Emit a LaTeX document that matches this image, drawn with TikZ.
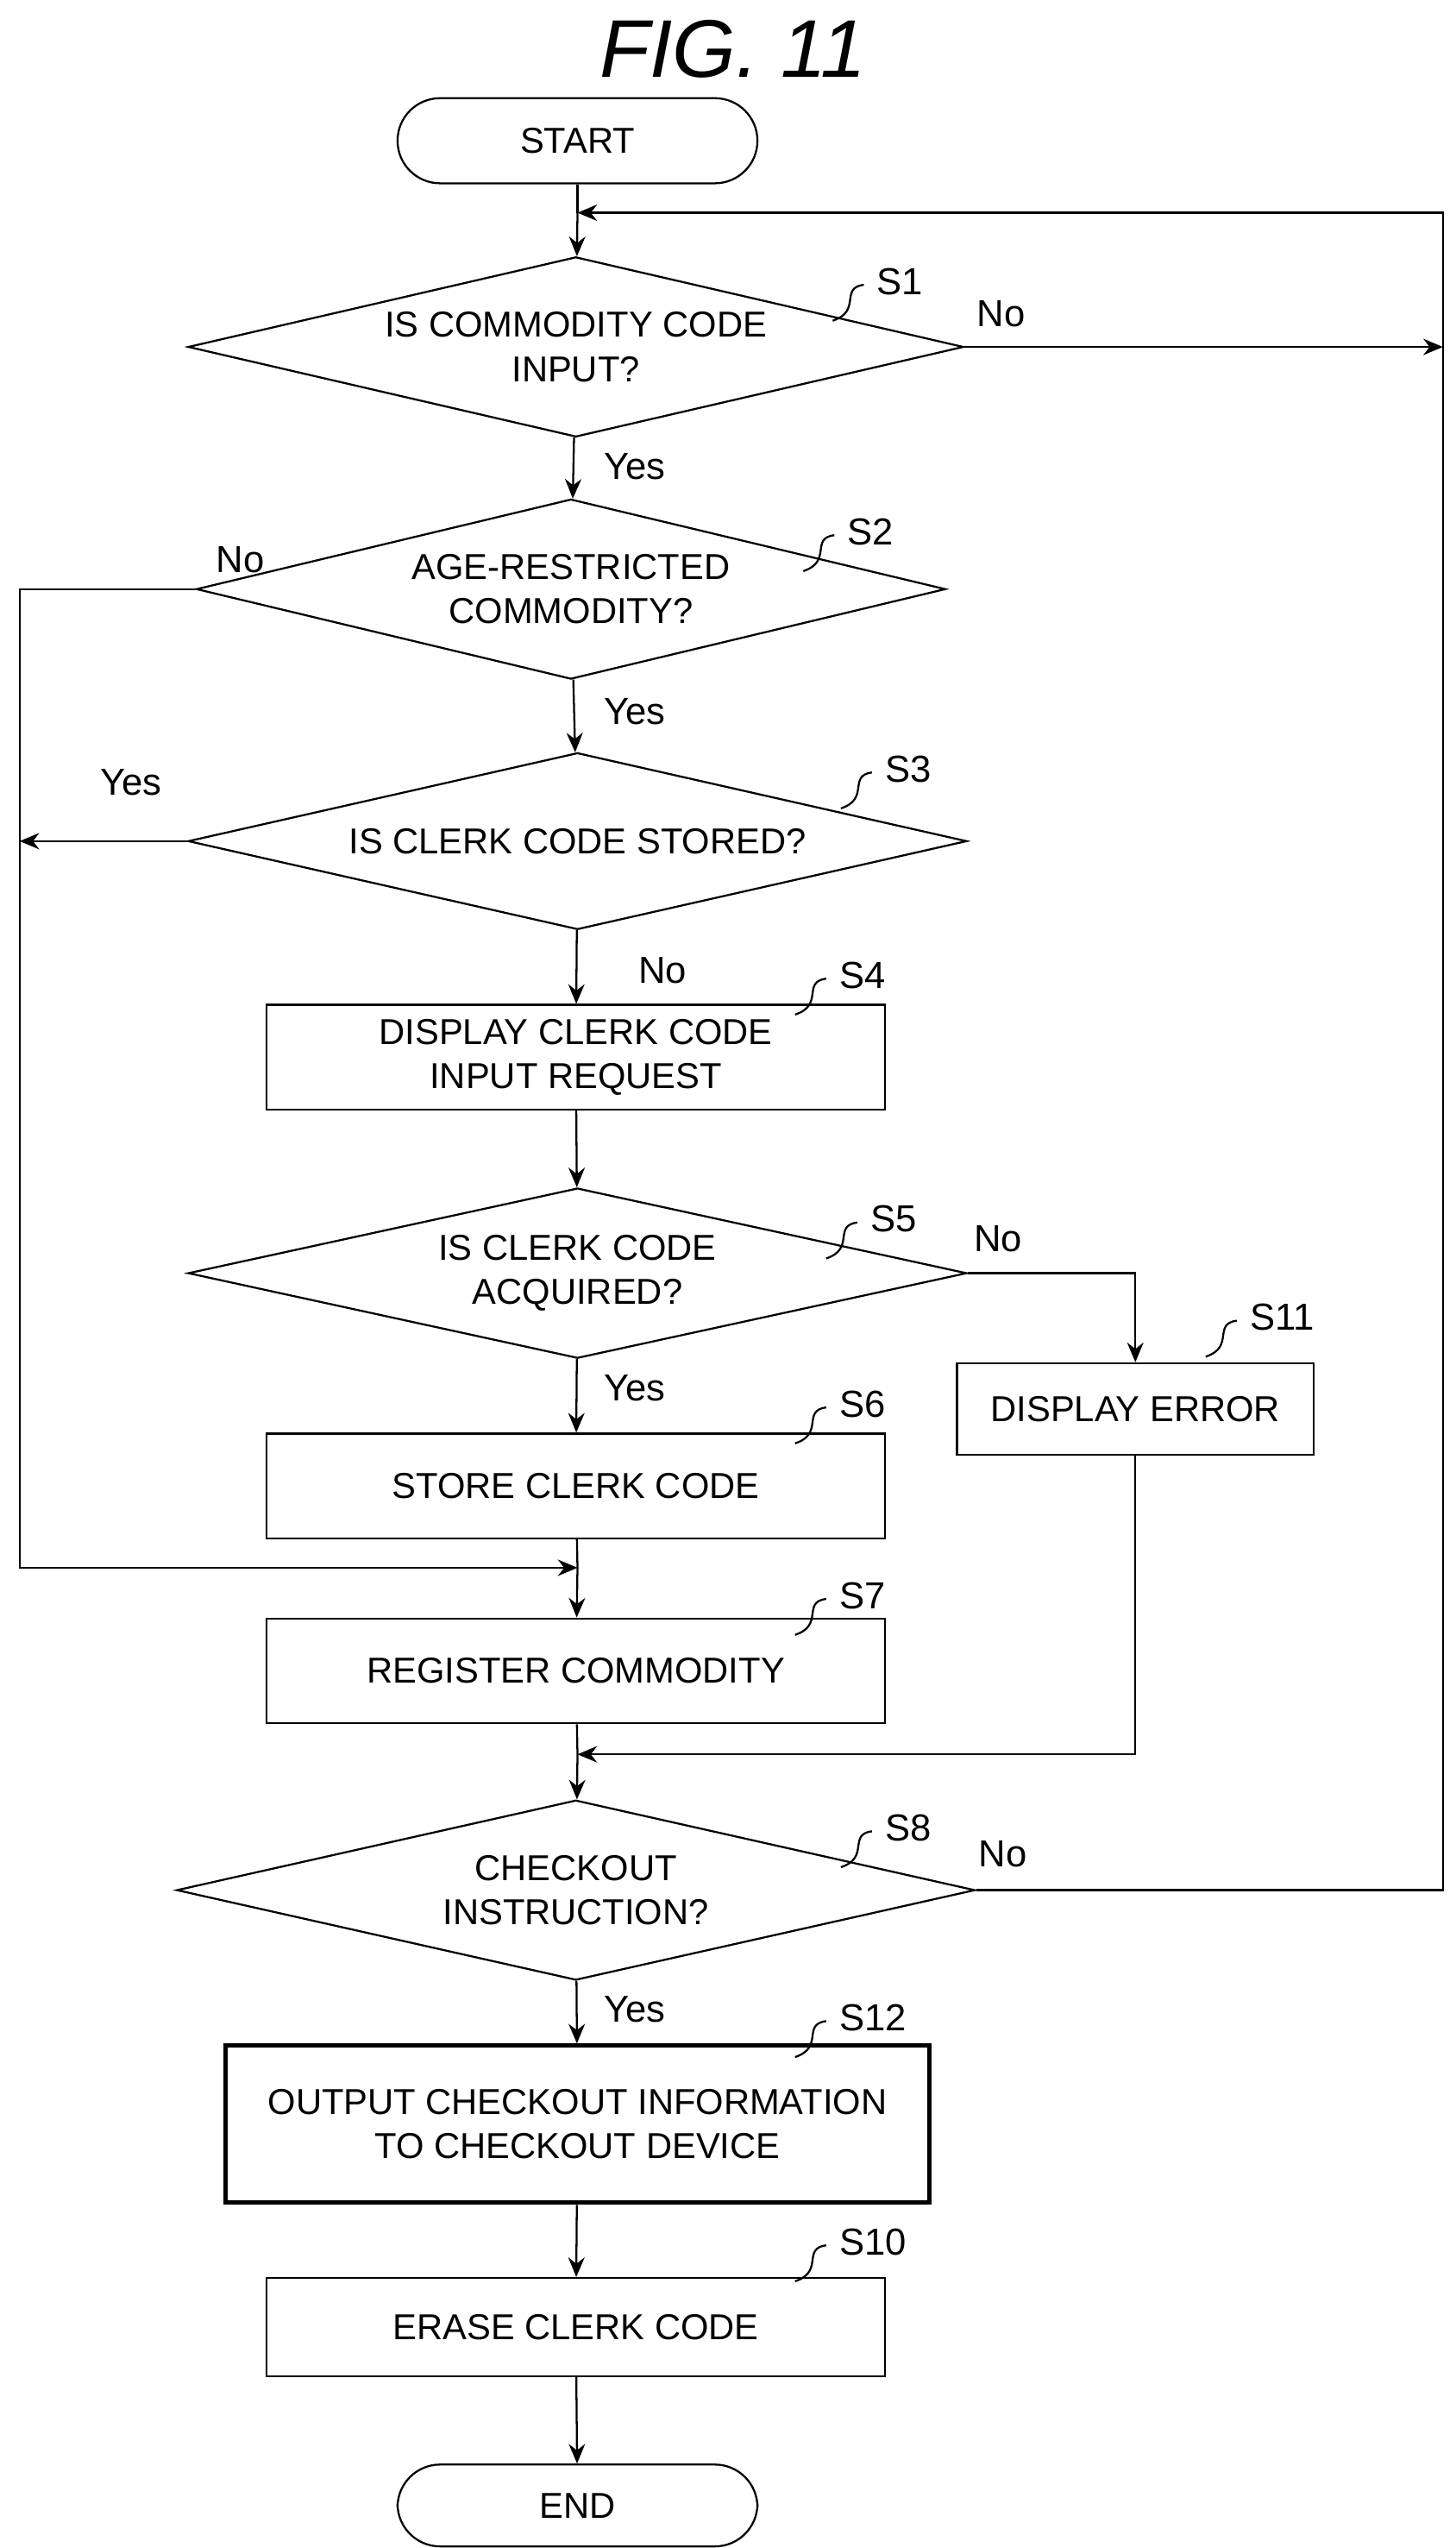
\documentclass[tikz,border=0pt]{standalone}
\usepackage{fontspec}
\setmainfont{Liberation Sans}
\usetikzlibrary{shapes.geometric,arrows.meta}
\begin{document}
\begin{tikzpicture}[x=0.5pt,y=-0.5pt,
  every node/.style={font=\fontsize{11}{13.5}\selectfont},
  box/.style={draw,line width=0.6pt,minimum width=189pt,minimum height=32pt,align=center,inner sep=0},
  dia/.style={draw,line width=0.6pt,diamond,aspect=4.3,inner sep=0,align=center},
  term/.style={draw,line width=0.6pt,rounded corners=13pt,minimum width=110pt,minimum height=26pt},
  ln/.style={line width=0.6pt},
  ar/.style={line width=0.6pt,-{Stealth[length=6pt,width=5pt]}},
  lab/.style={font=\fontsize{11.5}{14}\selectfont}]
\useasboundingbox (0,0) rectangle (890,1557);
\node[font=\fontsize{25}{30}\selectfont\itshape] (title) at (448,30) {FIG. 11};
\node[term] (start) at (353,86) {START};
\node[dia,minimum width=237pt,minimum height=55pt] (s1) at (352,212) {IS COMMODITY CODE\\INPUT?};
\node[dia,minimum width=229pt,minimum height=55pt] (s2) at (349,360) {AGE-RESTRICTED\\COMMODITY?};
\node[dia,minimum width=238pt,minimum height=54pt] (s3) at (353,514) {IS CLERK CODE STORED?};
\node[box] (s4) at (352,646) {DISPLAY CLERK CODE\\INPUT REQUEST};
\node[dia,minimum width=238pt,minimum height=52pt] (s5) at (353,778) {IS CLERK CODE\\ACQUIRED?};
\node[box,minimum width=109pt,minimum height=28pt] (s11) at (694,861) {DISPLAY ERROR};
\node[box] (s6) at (352,908) {STORE CLERK CODE};
\node[box] (s7) at (352,1021) {REGISTER COMMODITY};
\node[dia,minimum width=244pt,minimum height=55pt] (s8) at (352,1155) {CHECKOUT\\INSTRUCTION?};
\node[box,line width=1.3pt,minimum width=215pt,minimum height=48pt] (s12) at (353,1298) {OUTPUT CHECKOUT INFORMATION\\TO CHECKOUT DEVICE};
\node[box,minimum height=30pt] (s10) at (352,1422) {ERASE CLERK CODE};
\node[term,minimum height=25pt] (end) at (353,1531) {END};
\coordinate (top) at (353,130);
\coordinate (rr) at (882,130);
\coordinate (lB) at (12,958);
\coordinate (m7) at (353,958);
\coordinate (m8) at (353,1072);
\draw[ln] (start) -- (top);
\draw[ar] (top) -- (s1);
\draw[ar] (s1) -- (s2);
\draw[ar] (s2) -- (s3);
\draw[ar] (s3) -- (s4);
\draw[ar] (s4) -- (s5);
\draw[ar] (s5) -- (s6);
\draw[ln] (s6) -- (m7);
\draw[ar] (m7) -- (s7);
\draw[ln] (s7) -- (m8);
\draw[ar] (m8) -- (s8);
\draw[ar] (s8) -- (s12);
\draw[ar] (s12) -- (s10);
\draw[ar] (s10) -- (end);
\draw[ar] (s1.east) -- (s1.east -| rr);
\draw[ar] (s8.east) -- (s8.east -| rr) -- (rr) -- (top);
\draw[ar] (s2.west) -- (s2.west -| lB) -- (lB) -- (m7);
\draw[ar] (s3.west) -- (s3.west -| lB);
\draw[ar] (s5.east) -| (s11.north);
\draw[ar] (s11.south) -- (s11.south |- m8) -- (m8);
\node[lab] (n1) at (612,192) {No};
\node[lab] (y1) at (388,285) {Yes};
\node[lab] (n2) at (147,342) {No};
\node[lab] (y2) at (388,435) {Yes};
\node[lab] (y3) at (80,478) {Yes};
\node[lab] (n3) at (405,593) {No};
\node[lab] (n5) at (610,757) {No};
\node[lab] (y5) at (388,848) {Yes};
\node[lab] (n8) at (613,1133) {No};
\node[lab] (y8) at (388,1228) {Yes};
\foreach \t/\x/\y in {S1/545/172,S2/527/325,S3/550/470,S4/522/596,S5/541/745,S11/773/805,S6/522/858,S7/522/975,S8/550/1117,S12/522/1233,S10/522/1370}{
  \node[lab,anchor=west] (l\t) at (\x-16,\y) {\t};
  \draw[ln] (\x-17,\y+2) .. controls (\x-32,\y+4) and (\x-18,\y+18) .. (\x-36,\y+24);
}
\end{tikzpicture}
\end{document}
